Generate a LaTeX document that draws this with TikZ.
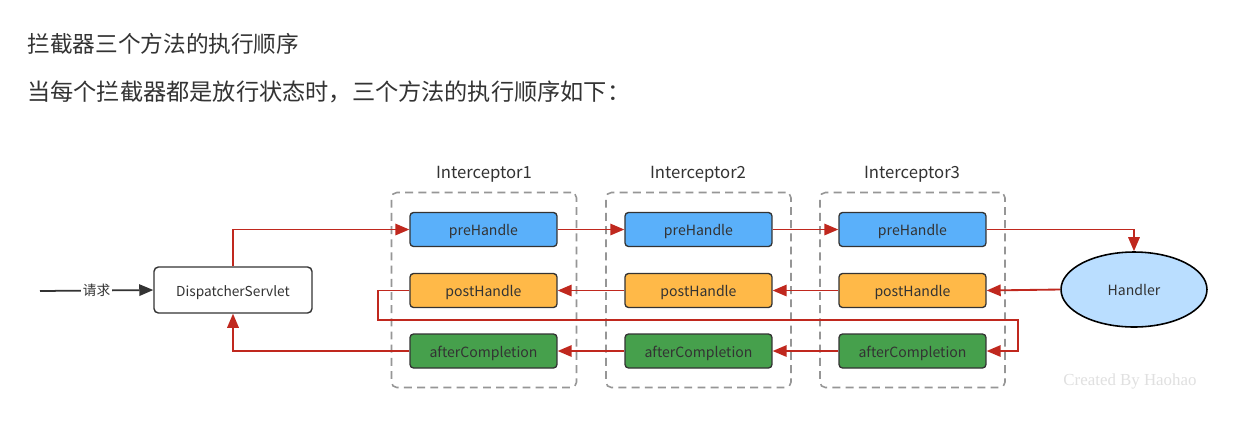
\documentclass[tikz,border=0pt]{standalone}
\usepackage{fontspec}
\newfontfamily\cjk{Noto Sans CJK SC}
\newfontfamily\wmfont{Liberation Serif}
\usetikzlibrary{arrows.meta,shapes.geometric}
\definecolor{redline}{RGB}{192,40,30}
\definecolor{preblue}{RGB}{90,176,250}
\definecolor{postorange}{RGB}{255,185,72}
\definecolor{aftergreen}{RGB}{70,160,76}
\definecolor{handlerblue}{RGB}{186,222,255}
\definecolor{txt}{RGB}{51,51,51}
\definecolor{dashgray}{RGB}{150,150,150}
\tikzset{
  method/.style={draw=txt, line width=0.75pt, rounded corners=2pt, minimum width=2.94cm, minimum height=0.68cm, inner sep=0pt, text height=0.95em, text depth=0.25em, font=\cjk\fontsize{8}{9}\selectfont, text=txt},
  prebox/.style={method, fill=preblue},
  postbox/.style={method, fill=postorange},
  afterbox/.style={method, fill=aftergreen},
  groupbox/.style={draw=dashgray, line width=0.9pt, dash pattern=on 4.5pt off 3pt, rounded corners=3pt, minimum width=3.7cm, minimum height=3.9cm, inner sep=0pt},
  grouplabel/.style={font=\cjk\fontsize{9.5}{11}\selectfont, text=txt},
  flow/.style={draw=redline, line width=1.05pt, -{Triangle[length=8pt,width=6.5pt]}},
  heading/.style={anchor=west, font=\cjk\fontsize{12.9}{15}\selectfont, text=txt, inner sep=0pt}
}
\begin{document}
\begin{tikzpicture}[x=0.02cm,y=-0.02cm]
\fill[white] (0,0) rectangle (1252,434);
\useasboundingbox (0,0) rectangle (1252,434);

\node[heading] (t1) at (27,44) {拦截器三个方法的执行顺序};
\node[heading, font=\cjk\fontsize{13.2}{15}\selectfont] (t2) at (27,92) {当每个拦截器都是放行状态时，三个方法的执行顺序如下：};

% groups
\node[groupbox] (g1) at (484,290) {};
\node[groupbox] (g2) at (698.5,290) {};
\node[groupbox] (g3) at (912.5,290) {};
\node[grouplabel] (l1) at (484,174.5) {Interceptor1};
\node[grouplabel] (l2) at (698,174.5) {Interceptor2};
\node[grouplabel] (l3) at (912,174.5) {Interceptor3};

% method boxes
\node[prebox] (p1) at (483.5,229.5) {preHandle};
\node[prebox] (p2) at (698.5,229.5) {preHandle};
\node[prebox] (p3) at (912.5,229.5) {preHandle};
\node[postbox] (o1) at (483.5,290.5) {postHandle};
\node[postbox] (o2) at (698.5,290.5) {postHandle};
\node[postbox] (o3) at (912.5,290.5) {postHandle};
\node[afterbox] (a1) at (483.5,351) {afterCompletion};
\node[afterbox] (a2) at (698.5,351) {afterCompletion};
\node[afterbox] (a3) at (912.5,351) {afterCompletion};

% dispatcher
\node[draw=txt, line width=0.8pt, fill=white, rounded corners=2.5pt, minimum width=3.16cm, minimum height=0.92cm, inner sep=0pt, text height=0.95em, text depth=0.25em, font=\cjk\fontsize{7.8}{9}\selectfont, text=txt] (ds) at (233,290) {DispatcherServlet};

% handler
\node[draw=black, line width=0.9pt, fill=handlerblue, ellipse, minimum width=2.92cm, minimum height=1.5cm, inner sep=0pt, text height=0.95em, text depth=0.25em, font=\cjk\fontsize{8}{9}\selectfont, text=txt] (h) at (1134,289.5) {Handler};

% request
\coordinate (req) at (40,291);
\draw[line width=1pt, draw=txt, -{Triangle[length=8pt,width=6.5pt]}] (req) -- node[fill=white, inner sep=1pt, font=\cjk\fontsize{7.8}{9}\selectfont, text=txt] (rq) {请求} (ds.west);

% flows
\draw[flow] (ds.north) |- (p1.west);
\draw[flow] (p1) -- (p2);
\draw[flow] (p2) -- (p3);
\draw[flow] (p3.east) -| (h.north);
\draw[flow] (h.west) -- (o3.east);
\draw[flow] (o3) -- (o2);
\draw[flow] (o2) -- (o1);
\coordinate (lb) at (378,320);
\coordinate (rb) at (1018,320);
\draw[flow] (o1.west) -| (lb) -- (rb) |- (a3.east);
\draw[flow] (a3) -- (a2);
\draw[flow] (a2) -- (a1);
\draw[flow] (a1.west) -| (ds.south);

% watermark
\node[font=\wmfont\fontsize{9.6}{10}\selectfont, text={rgb,255:red,224;green,224;blue,224}] (wm) at (1130,381) {Created By Haohao};
\end{tikzpicture}
\end{document}
